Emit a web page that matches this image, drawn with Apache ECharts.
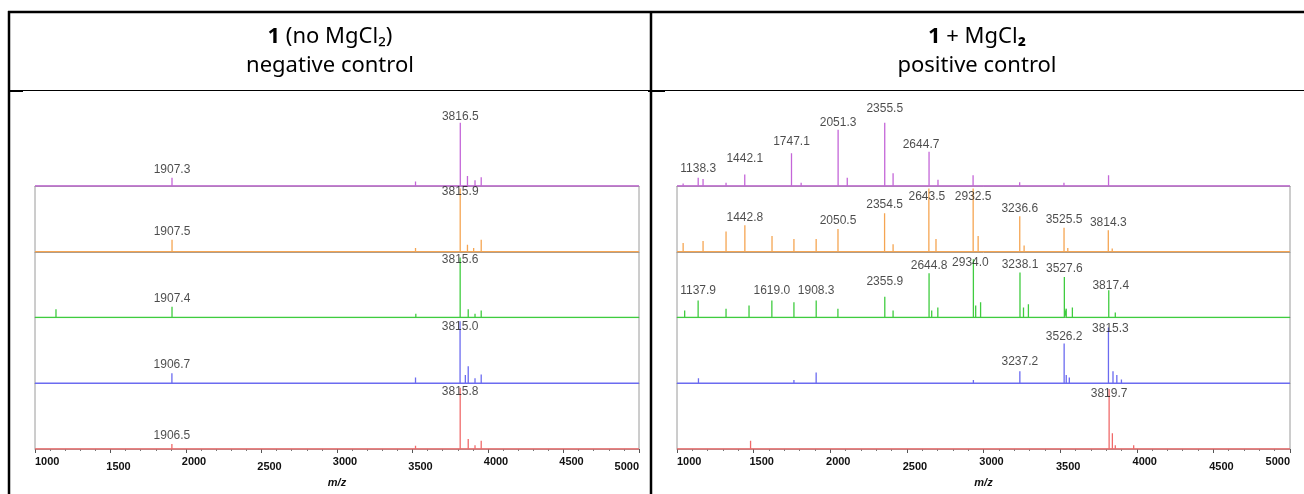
<!DOCTYPE html>
<html>
<head>
<meta charset="utf-8">
<script src="https://cdn.jsdelivr.net/npm/echarts@6.0.0/dist/echarts.min.js"></script>
<style>
  html, body { margin: 0; padding: 0; background: #fff; }
  #chart { width: 1304px; height: 494px; }
</style>
</head>
<body>
<div id="chart"></div>
<script>
// m/z axis range and tick labels
const MZ_MIN = 1000;
const MZ_MAX = 5000;
const mzTicks = [1000, 1500, 2000, 2500, 3000, 3500, 4000, 4500, 5000];

// Column headers
const headerTitles = [
  ['{b|1} (no MgCl₂)', 'negative control'],
  ['{b|1} + MgCl{b|₂}', 'positive control']
];

// Peak lists [m/z, relative intensity], negative control (no MgCl2)
const negPurple = [[1144, 3], [1907.3, 13], [3520, 7], [3816.5, 100], [3864, 16], [3914, 9], [3955, 14], [4002, 3]];
const negOrange = [[1907.5, 19], [3520, 6], [3815.9, 100], [3864, 11], [3905, 6], [3955, 19], [4210, 2]];
const negGreen  = [[1139, 13], [1338, 3], [1907.4, 17], [3522, 6], [3815.6, 95], [3869, 13], [3914, 6], [3955, 11], [4016, 3]];
const negBlue   = [[1144, 3], [1906.7, 16], [3296, 2], [3520, 9], [3815.0, 98], [3850, 13], [3869, 27], [3914, 8], [3955, 14], [3990, 3], [4250, 2]];
const negRed    = [[1906.5, 8], [3520, 5], [3815.8, 97], [3869, 16], [3914, 6], [3955, 13]];

// Peak lists, positive control (+ MgCl2)
const posPurple = [[1040, 4], [1138.3, 13], [1170, 11], [1320, 5], [1442.1, 18], [1747.1, 52], [1810, 5], [2051.3, 89], [2111, 13],
                   [2355.5, 100], [2410, 20], [2644.7, 54], [2703, 10], [2932, 17], [3236, 6], [3525, 5], [3816, 17]];
const posOrange = [[1040, 14], [1170, 17], [1320, 32], [1442.8, 42], [1620, 25], [1763, 20], [1908, 20], [2050.5, 36], [2354.5, 61],
                   [2410, 12], [2643.5, 100], [2690, 20], [2932.5, 100], [2965, 25], [3236.6, 56], [3265, 10], [3525.5, 38], [3550, 6],
                   [3814.3, 34], [3840, 5]];
const posGreen  = [[1050, 11], [1137.9, 27], [1320, 14], [1470, 19], [1619.0, 27], [1763, 24], [1908.3, 27], [2050, 14], [2355.9, 33],
                   [2410, 11], [2644.8, 70], [2662, 11], [2702, 16], [2934.0, 92], [2949, 19], [2981, 24], [3238.1, 71], [3261, 16],
                   [3293, 21], [3527.6, 64], [3540, 14], [3580, 16], [3817.4, 43], [3860, 8]];
const posBlue   = [[1140, 8], [1470, 3], [1763, 5], [1908, 17], [2934, 5], [3237.2, 19], [3526.2, 63], [3540, 13], [3560, 9],
                   [3815.3, 88], [3845, 19], [3870, 13], [3900, 6]];
const posRed    = [[1480, 13], [2000, 2], [3400, 3], [3819.7, 95], [3841, 25], [3860, 6], [3980, 6], [4180, 3]];

// Annotated peaks (m/z) for each trace, top to bottom
const negLabelled = [[1907.3, 3816.5], [1907.5, 3815.9], [1907.4, 3815.6], [1906.7, 3815.0], [1906.5, 3815.8]];
const posLabelled = [
  [1138.3, 1442.1, 1747.1, 2051.3, 2355.5, 2644.7],
  [1442.8, 2050.5, 2354.5, 2643.5, 2932.5, 3236.6, 3525.5, 3814.3],
  [1137.9, 1619.0, 1908.3, 2355.9, 2644.8, 2934.0, 3238.1, 3527.6, 3817.4],
  [3237.2, 3526.2, 3815.3],
  [3819.7]
];

const panels = [
  { traces: [negPurple, negOrange, negGreen, negBlue, negRed], labelled: negLabelled },
  { traces: [posPurple, posOrange, posGreen, posBlue, posRed], labelled: posLabelled }
];

// ---- styling ----
const traceColors = ['#c466d8', '#f5a552', '#3fcc3f', '#6b6bf0', '#f06a6a'];
const panelBox = [{ left: 35, width: 604, cx: 330 }, { left: 677, width: 613, cx: 977 }];
const BASE0 = 186, STEP = 65.75, Y_MAX = 104;
// label nudges [dx, dy] (label centre relative to peak apex)
const labelNudge = {
  '0-0-3816.5': [0, -6],
  '0-1-3815.9': [0, 3], '0-2-3815.6': [0, 2], '0-3-3815.0': [0, 5], '0-4-3815.8': [0, 4],
  '1-0-1138.3': [0, -9], '1-0-1442.1': [0, -16], '1-0-1747.1': [0, -11], '1-0-2051.3': [0, -7],
  '1-0-2355.5': [0, -14], '1-0-2644.7': [-8, -7],
  '1-1-2643.5': [-2, 8], '1-1-2932.5': [0, 8],
  '1-2-1137.9': [0, -10], '1-2-1619.0': [0, -10], '1-2-1908.3': [0, -10], '1-2-2355.9': [0, -15],
  '1-2-2934.0': [-3, 3], '1-2-3817.4': [2, -5],
  '1-3-3237.2': [0, -10], '1-3-3526.2': [0, -7], '1-3-3815.3': [2, 1],
  '1-4-3819.7': [0, 5]
};
// tick label stagger (hi/lo) for each column
const tickLift = [
  ['hi', 'lo', 'hi', 'lo', 'hi', 'lo', 'hi', 'hi', 'lo'],
  ['hi', 'hi', 'hi', 'lo', 'hi', 'lo', 'hi', 'lo', 'hi']
];

// spectrum outline: baseline with a vertical stick at every peak
function stickPath(peaks) {
  const pts = [[MZ_MIN, 0]];
  peaks.slice().sort((a, b) => a[0] - b[0]).forEach(([m, h]) => {
    pts.push([m, 0], [m, h], [m, 0]);
  });
  pts.push([MZ_MAX, 0]);
  return pts;
}

const tickFont = { fontFamily: 'Liberation Sans', fontSize: 11, fontWeight: 'bold', color: '#111' };
const grid = [], xAxis = [], yAxis = [], series = [];

panels.forEach((panel, p) => {
  const box = panelBox[p];
  panel.traces.forEach((peaks, i) => {
    const gi = grid.length;
    const bottomRow = i === panel.traces.length - 1;
    grid.push({ left: box.left, width: box.width, top: BASE0 + (i - 1) * STEP, height: STEP });
    xAxis.push({
      gridIndex: gi, type: 'value', min: MZ_MIN, max: MZ_MAX, interval: 500,
      axisLine: { show: true, lineStyle: { color: '#9a9a9a', width: 1 } },
      axisTick: { show: bottomRow, length: 4, lineStyle: { color: '#555' } },
      minorTick: { show: bottomRow, splitNumber: 5, length: 2, lineStyle: { color: '#777' } },
      splitLine: { show: false },
      axisLabel: {
        show: bottomRow, margin: 7, ...tickFont,
        formatter: (v) => {
          const k = mzTicks.indexOf(v);
          const edge = k === 0 || k === mzTicks.length - 1;
          return '{' + tickLift[p][k] + (edge ? '' : 'S') + '|' + v + '}';
        },
        rich: {
          hi:  { ...tickFont, padding: [0, 0, 0, 0] },
          lo:  { ...tickFont, padding: [5, 0, 0, 0] },
          hiS: { ...tickFont, padding: [0, 0, 0, 16] },
          loS: { ...tickFont, padding: [5, 0, 0, 16] }
        },
        alignMinLabel: 'left', alignMaxLabel: 'right'
      },
      name: bottomRow ? 'm/z' : '', nameLocation: 'middle', nameGap: 28,
      nameTextStyle: { fontFamily: 'Liberation Sans', fontSize: 11, fontStyle: 'italic', fontWeight: 'bold', color: '#111' }
    });
    yAxis.push({ gridIndex: gi, type: 'value', min: 0, max: Y_MAX, show: false });

    series.push({
      type: 'line', xAxisIndex: gi, yAxisIndex: gi, data: stickPath(peaks),
      symbol: 'none', silent: true, animation: false, z: 3,
      lineStyle: { color: traceColors[i], width: 1.3 }
    });

    const labelled = panel.labelled[i];
    series.push({
      type: 'scatter', xAxisIndex: gi, yAxisIndex: gi, silent: true, animation: false, z: 5,
      symbol: 'circle', symbolSize: 1, itemStyle: { color: 'rgba(0,0,0,0)' },
      data: peaks.filter(([m]) => labelled.includes(m)).map(([m, h]) => ({
        value: [m, h],
        label: { offset: labelNudge[p + '-' + i + '-' + m.toFixed(1)] || [0, -8] }
      })),
      label: {
        show: true, position: 'inside', align: 'center', verticalAlign: 'middle',
        fontFamily: 'Liberation Sans', fontSize: 12, color: '#1e1e1e',
        formatter: (d) => d.value[0].toFixed(1)
      }
    });
  });

  // grey frame around the stacked traces
  const fi = grid.length;
  grid.push({
    left: box.left, width: box.width, top: BASE0, height: STEP * 4,
    show: true, borderColor: '#9a9a9a', borderWidth: 1, backgroundColor: 'transparent'
  });
  xAxis.push({ gridIndex: fi, type: 'value', min: MZ_MIN, max: MZ_MAX, show: false });
  yAxis.push({ gridIndex: fi, type: 'value', min: 0, max: 1, show: false });
});

// table rules and column headings
const graphic = [
  { type: 'line', shape: { x1: 8, y1: 12, x2: 1304, y2: 12 }, style: { stroke: '#000', lineWidth: 2.5 } },
  { type: 'line', shape: { x1: 9, y1: 11, x2: 9, y2: 494 }, style: { stroke: '#000', lineWidth: 2.5 } },
  { type: 'line', shape: { x1: 651, y1: 11, x2: 651, y2: 494 }, style: { stroke: '#000', lineWidth: 2.5 } },
  { type: 'line', shape: { x1: 8, y1: 90.5, x2: 1304, y2: 90.5 }, style: { stroke: '#000', lineWidth: 1 } },
  { type: 'line', shape: { x1: 10, y1: 91, x2: 23, y2: 91 }, style: { stroke: '#000', lineWidth: 2 } },
  { type: 'line', shape: { x1: 648, y1: 91, x2: 665, y2: 91 }, style: { stroke: '#000', lineWidth: 2 } }
];
headerTitles.forEach((lines, p) => {
  lines.forEach((txt, k) => {
    graphic.push({
      type: 'text', x: panelBox[p].cx, y: 37 + k * 29,
      style: {
        text: txt, x: 0, y: 0, align: 'center', verticalAlign: 'middle',
        fontFamily: 'Noto Sans', fontSize: 22, fill: '#000',
        rich: { b: { fontFamily: 'Noto Sans', fontSize: 22, fontWeight: 'bold', fill: '#000' } }
      }
    });
  });
});

const chart = echarts.init(document.getElementById('chart'), null, { renderer: 'canvas' });
chart.setOption({
  animation: false,
  backgroundColor: '#fff',
  grid, xAxis, yAxis, series, graphic
});
</script>
</body>
</html>
